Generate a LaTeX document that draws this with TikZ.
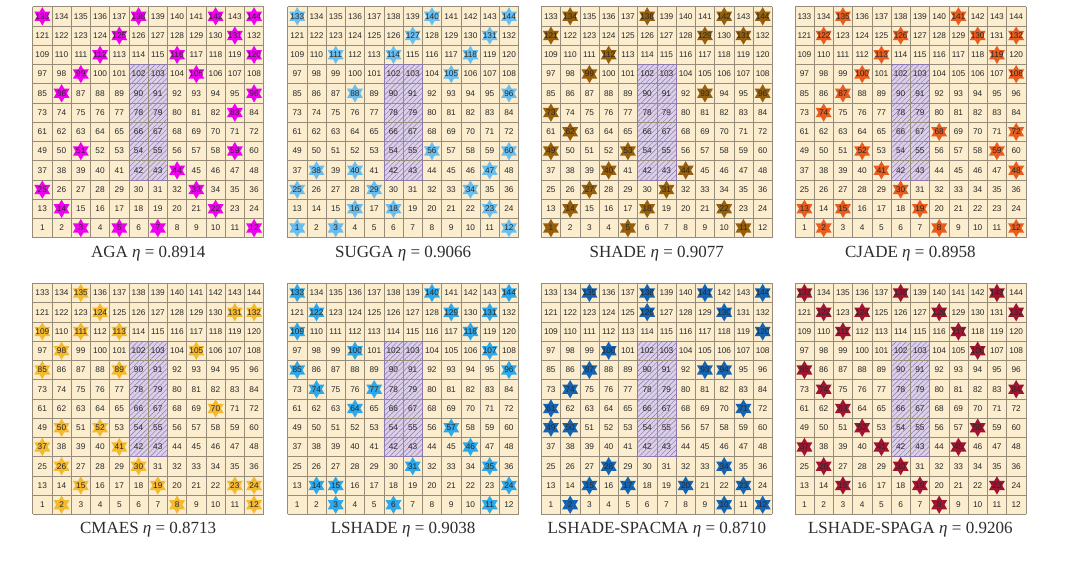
\documentclass[tikz,border=0pt]{standalone}
\usepackage{fontspec}
\setmainfont{Liberation Serif}
\newfontfamily\numfont{Liberation Sans}
\usetikzlibrary{patterns.meta}
\definecolor{cellbg}{RGB}{251,237,206}
\definecolor{gridc}{RGB}{150,140,122}
\definecolor{hatchbg}{RGB}{219,208,232}
\definecolor{hatchc}{RGB}{140,120,172}
\definecolor{numc}{RGB}{40,40,40}
\definecolor{capc}{RGB}{45,45,45}
\definecolor{cAGA}{RGB}{240,0,240}
\definecolor{cSUGGA}{RGB}{105,190,240}
\definecolor{cSHADE}{RGB}{150,95,12}
\definecolor{cCJADE}{RGB}{232,92,30}
\definecolor{cCMAES}{RGB}{245,185,45}
\definecolor{cLSHADE}{RGB}{45,168,235}
\definecolor{cSPACMA}{RGB}{20,100,180}
\definecolor{cSPAGA}{RGB}{160,20,50}
\tikzset{
  gridline/.style={draw=gridc, line width=0.6pt},
  hatchborder/.style={draw=hatchc, line width=0.6pt},
  num/.style={font=\numfont\fontsize{8.3}{9}\selectfont, text=numc, inner sep=0pt},
  captext/.style={font=\fontsize{17}{20}\selectfont, text=capc, inner sep=0pt}
}
\def\cs{19.25}
\newcommand\mygrid[6]{%
 \begin{scope}[shift={(#1,#2)}]
  \fill[cellbg] (0,0) rectangle (12*\cs,12*\cs);
  \fill[hatchbg] (5*\cs,3*\cs) rectangle (7*\cs,9*\cs);
  \fill[pattern={Lines[angle=45,distance=3.6pt,line width=0.45pt]}, pattern color=hatchc] (5*\cs,3*\cs) rectangle (7*\cs,9*\cs);
  \foreach \i in {0,...,12} {
    \draw[gridline] (\i*\cs,0) -- (\i*\cs,12*\cs);
    \draw[gridline] (0,\i*\cs) -- (12*\cs,\i*\cs);
  }
  \draw[hatchborder] (5*\cs,3*\cs) rectangle (7*\cs,9*\cs);
  \foreach \n in {#4} {
    \pgfmathtruncatemacro\cc{mod(\n-1,12)}
    \pgfmathtruncatemacro\rr{11-div(\n-1,12)}
    \fill[#3, shift={({(\cc+0.5)*\cs},{(\rr+0.5)*\cs})}] (90:9.2) -- (210:9.2) -- (330:9.2) -- cycle (270:9.2) -- (30:9.2) -- (150:9.2) -- cycle;
  }
  \foreach \n in {1,...,144} {
    \pgfmathtruncatemacro\cc{mod(\n-1,12)}
    \pgfmathtruncatemacro\rr{11-div(\n-1,12)}
    \node[num] (#6n\n) at ({(\cc+0.5)*\cs},{(\rr+0.5)*\cs}) {\n};
  }
  \node[captext] (#6cap) at (6*\cs,246.5) {#5};
 \end{scope}
}
\begin{document}
\begin{tikzpicture}[x=1pt,y=-1pt]
\fill[white] (0,0) rectangle (1081,566);
\useasboundingbox (0,0) rectangle (1081,566);
\mygrid{32.7}{6.7}{cAGA}{133,138,142,144,125,131,112,116,120,99,105,86,96,83,51,59,44,25,33,14,22,3,5,7,12}{AGA {\itshape η} = 0.8914}{ga}
\mygrid{287.6}{6.7}{cSUGGA}{133,140,144,127,131,111,114,118,105,88,96,56,60,38,40,47,25,29,34,16,18,23,1,3,12}{SUGGA {\itshape η} = 0.9066}{gb}
\mygrid{541.3}{6.7}{cSHADE}{134,138,142,144,121,129,131,112,99,93,96,73,62,49,53,40,44,27,31,14,18,22,1,5,11}{SHADE {\itshape η} = 0.9077}{gc}
\mygrid{794.8}{6.7}{cCJADE}{135,141,122,126,130,132,113,119,100,108,87,74,68,72,52,59,41,48,30,13,15,19,2,8,12}{CJADE {\itshape η} = 0.8958}{gd}
\mygrid{32.7}{283.3}{cCMAES}{135,124,131,132,109,111,113,98,105,85,89,70,50,52,37,41,26,30,15,19,23,24,2,8,12}{CMAES {\itshape η} = 0.8713}{ge}
\mygrid{287.6}{283.3}{cLSHADE}{133,140,144,122,129,131,109,118,100,107,85,96,74,77,64,57,46,31,35,14,15,24,3,6,11}{LSHADE {\itshape η} = 0.9038}{gf}
\mygrid{541.3}{283.3}{cSPACMA}{135,138,141,144,126,130,120,100,87,93,94,74,61,71,49,50,28,34,15,17,20,23,2,10,12}{LSHADE-SPACMA {\itshape η} = 0.8710}{gg}
\mygrid{794.8}{283.3}{cSPAGA}{133,138,143,122,124,128,132,111,117,106,85,74,84,63,52,58,37,41,45,26,30,15,19,23,8}{LSHADE-SPAGA {\itshape η} = 0.9206}{gh}
\end{tikzpicture}
\end{document}
